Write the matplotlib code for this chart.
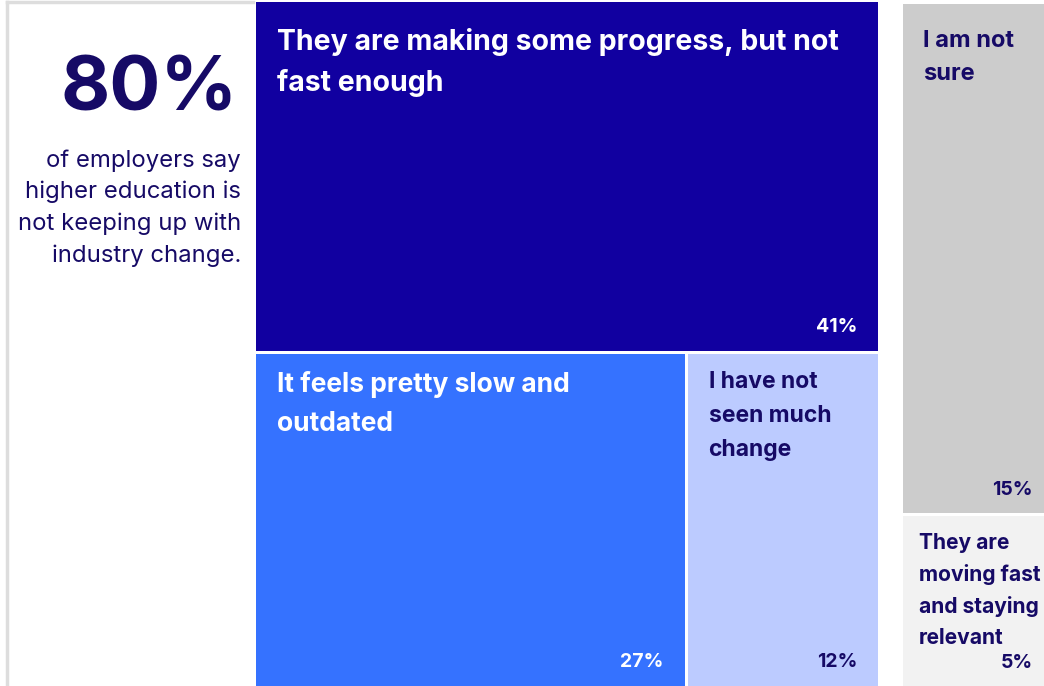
import matplotlib.pyplot as plt
from matplotlib.patches import Rectangle

# survey answers, split into the "not keeping up" group and the rest
slow_labels = ['They are making some progress, but not\nfast enough',
               'It feels pretty slow and\noutdated',
               'I have not\nseen much\nchange']
slow_values = [41, 27, 12]
other_labels = ['I am not\nsure',
                'They are\nmoving fast\nand staying\nrelevant']
other_values = [15, 5]

headline = '80%'
subtitle = 'of employers say\nhigher education is\nnot keeping up with\nindustry change.'

slow_colors = ['#1100A0', '#3572FF', '#BCCBFF']
other_colors = ['#CCCCCC', '#F2F2F2']
navy = '#160A66'

plt.rcParams['font.family'] = ['Inter', 'DejaVu Sans']

W, H = 1044, 686
fig = plt.figure(figsize=(W / 100, H / 100), dpi=100)
ax = fig.add_axes([0, 0, 1, 1])
ax.set_xlim(0, W)
ax.set_ylim(H, 0)
ax.axis('off')

gap = 3
unit = 622 / sum(slow_values)   # pixels of width per percentage point

# left card with the headline number
ax.plot([7, 7], [2, H], color='#DDDDDD', lw=2.5)
ax.plot([7, 253], [2, 2], color='#DDDDDD', lw=2.5)
ax.text(238, 91, headline, ha='right', va='center', fontsize=54.5,
        fontweight='bold', color=navy)
ax.text(241, 208, subtitle, ha='right', va='center', fontsize=17.2,
        color=navy, linespacing=1.53)


def box(x, y, w, h, color, label, value, txt_color, size, spacing,
        top=22, pad=21):
    ax.add_patch(Rectangle((x, y), w, h, facecolor=color, edgecolor='none'))
    ax.text(x + pad, y + top, label, ha='left', va='top', fontsize=size,
            fontweight='bold', color=txt_color, linespacing=spacing)
    ax.text(x + w - 21, y + h - 15, f'{value}%', ha='right', va='bottom',
            fontsize=14, fontweight='bold', color=txt_color)


# group 1: top block spans the width, the other two share the bottom row
gx, gy = 256, 2
gw = unit * sum(slow_values)
gh = H - gy
top_h = (gh - gap) * slow_values[0] / sum(slow_values)
box(gx, gy, gw, top_h, slow_colors[0], slow_labels[0], slow_values[0],
    'white', 20.5, 1.6, top=26)
bot_y = gy + top_h + gap
bot_h = H - bot_y
w1 = (gw - gap) * slow_values[1] / sum(slow_values[1:])
box(gx, bot_y, w1, bot_h, slow_colors[1], slow_labels[1], slow_values[1],
    'white', 19, 1.65, top=17)
box(gx + w1 + gap, bot_y, gw - w1 - gap, bot_h, slow_colors[2],
    slow_labels[2], slow_values[2], navy, 16.5, 1.7, top=17)

# group 2: stacked column on the right, partly past the edge
rx, ry = 903, 4
rw = unit * sum(other_values)
rh = H - ry
h1 = (rh - gap) * other_values[0] / sum(other_values)
ax.add_patch(Rectangle((rx, ry), rw, h1, facecolor=other_colors[0],
                       edgecolor='none'))
ax.text(rx + 20, ry + 26, other_labels[0], ha='left', va='top', fontsize=17,
        fontweight='bold', color=navy, linespacing=1.67)
ax.text(1033, ry + h1 - 14, f'{other_values[0]}%', ha='right', va='bottom',
        fontsize=14, fontweight='bold', color=navy)
y2 = ry + h1 + gap
ax.add_patch(Rectangle((rx, y2), rw, H - y2, facecolor=other_colors[1],
                       edgecolor='none'))
ax.text(919, y2 + 17, other_labels[1], ha='left', va='top', fontsize=15.1,
        fontweight='bold', color=navy, linespacing=1.65)
ax.text(1033, H - 14, f'{other_values[1]}%', ha='right', va='bottom',
        fontsize=14, fontweight='bold', color=navy)

fig.savefig('out.png', dpi=100)
